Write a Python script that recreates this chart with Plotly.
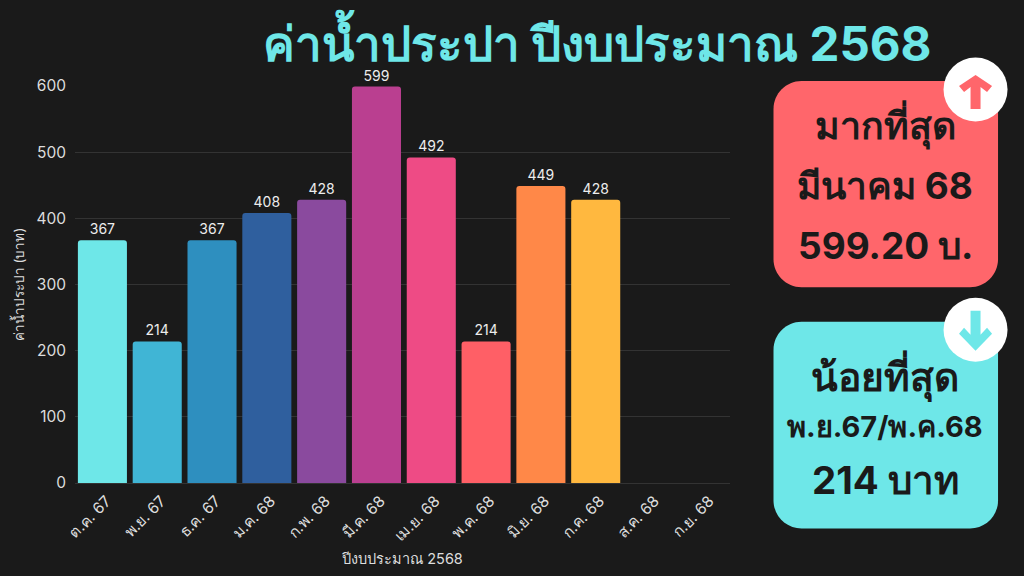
import plotly.graph_objects as go

months = ["ต.ค. 67", "พ.ย. 67", "ธ.ค. 67", "ม.ค. 68", "ก.พ. 68", "มี.ค. 68",
          "เม.ย. 68", "พ.ค. 68", "มิ.ย. 68", "ก.ค. 68", "ส.ค. 68", "ก.ย. 68"]
water_cost = [367, 214, 367, 408, 428, 599.2, 492, 214, 449, 428, None, None]
bar_colors = ["#6EE7E8", "#40B5D5", "#2E8FBF", "#2F5F9E", "#8A4A9E", "#BA3F90",
              "#EE4B85", "#FF5F66", "#FF8848", "#FFB83F", "#FFB83F", "#FFB83F"]
y_ticks = [0, 100, 200, 300, 400, 500, 600]

W, H = 1024, 576
L, R, T, B = 75.1, 730, 86, 483.5
BG = "#1A1A1A"
FONT = "Inter, 'Noto Sans', Roboto, sans-serif"
DARK = "#1A1A1A"
CYAN = "#6EE7E8"
RED = "#FF666B"


def px(x):
    return (x - L) / (R - L)


def py(y):
    return (B - y) / (B - T)


def path(points):
    return "M " + " L ".join(f"{px(x):.5f},{py(y):.5f}" for x, y in points) + " Z"


def round_rect(x0, y0, x1, y1, r):
    k = 0.45 * r
    seg = [
        f"M {px(x0 + r):.5f},{py(y0):.5f}",
        f"L {px(x1 - r):.5f},{py(y0):.5f}",
        f"C {px(x1 - k):.5f},{py(y0):.5f} {px(x1):.5f},{py(y0 + k):.5f} {px(x1):.5f},{py(y0 + r):.5f}",
        f"L {px(x1):.5f},{py(y1 - r):.5f}",
        f"C {px(x1):.5f},{py(y1 - k):.5f} {px(x1 - k):.5f},{py(y1):.5f} {px(x1 - r):.5f},{py(y1):.5f}",
        f"L {px(x0 + r):.5f},{py(y1):.5f}",
        f"C {px(x0 + k):.5f},{py(y1):.5f} {px(x0):.5f},{py(y1 - k):.5f} {px(x0):.5f},{py(y1 - r):.5f}",
        f"L {px(x0):.5f},{py(y0 + r):.5f}",
        f"C {px(x0):.5f},{py(y0 + k):.5f} {px(x0 + k):.5f},{py(y0):.5f} {px(x0 + r):.5f},{py(y0):.5f}",
        "Z",
    ]
    return " ".join(seg)


def shape_path(d, color):
    return dict(type="path", xref="paper", yref="paper", path=d,
                fillcolor=color, line=dict(width=0), layer="above")


def circle(cx, cy, r, color):
    return dict(type="circle", xref="paper", yref="paper",
                x0=px(cx - r), x1=px(cx + r), y0=py(cy + r), y1=py(cy - r),
                fillcolor=color, line=dict(width=0), layer="above")


up_arrow = [(975.5, 75), (992, 86), (987, 92), (980.5, 87), (980.5, 109), (970.5, 109),
            (970.5, 87), (964, 92), (959, 86)]
down_arrow = [(975.5, 351), (992, 334), (987, 328), (980.5, 335), (980.5, 311), (970.5, 311),
              (970.5, 335), (964, 328), (959, 334)]

shapes = [
    shape_path(round_rect(773.5, 81, 998, 287.5, 28), RED),
    shape_path(round_rect(773.5, 322, 998, 529, 28), CYAN),
    circle(975.5, 89.5, 32, "#FFFFFF"),
    circle(975.5, 330, 32, "#FFFFFF"),
    shape_path(path(up_arrow), RED),
    shape_path(path(down_arrow), CYAN),
]


def note(text, x, y, size, color=DARK, weight=700):
    return dict(text=text, xref="paper", yref="paper", x=px(x), y=py(y),
                xanchor="center", yanchor="middle", showarrow=False,
                font=dict(family=FONT, size=size, color=color, weight=weight))


annotations = [
    note("ค่าน้ำประปา ปีงบประมาณ 2568", 597.5, 40, 47.5, CYAN),
    note("มากที่สุด", 885, 125, 37.5),
    note("มีนาคม 68", 885, 186, 37),
    note("599.20 บ.", 885, 246, 37),
    note("น้อยที่สุด", 885, 376, 39),
    note("พ.ย.67/พ.ค.68", 885, 427, 29),
    note("214 บาท", 885, 480, 38.5),
]

fig = go.Figure(go.Bar(
    x=months, y=water_cost,
    marker=dict(color=bar_colors, cornerradius=3, line=dict(width=0)),
    texttemplate="%{y:.0f}", textposition="outside", cliponaxis=False,
    textfont=dict(family=FONT, size=14, color="#EDEDED"),
    showlegend=False,
))

fig.update_layout(
    width=W, height=H, autosize=False,
    margin=dict(l=L, r=W - R, t=T, b=H - B, pad=0),
    paper_bgcolor=BG, plot_bgcolor=BG,
    bargap=0.105, shapes=shapes, annotations=annotations,
    font=dict(family=FONT, color="#DDDDDD"),
    xaxis=dict(
        tickangle=-45, tickfont=dict(size=15.5, color="#DDDDDD"),
        ticklabelshift=4, ticklabelstandoff=2,
        title=dict(text="ปีงบประมาณ 2568", font=dict(size=14.5, color="#DDDDDD"), standoff=9),
        showgrid=False, zeroline=False, showline=True, linecolor="#333333", linewidth=1,
        ticks="", categoryorder="array", categoryarray=months, range=[-0.5, 11.45],
    ),
    yaxis=dict(
        range=[0, 600], tickvals=y_ticks, tickfont=dict(size=15.5, color="#DDDDDD"),
        ticklabelstandoff=8,
        title=dict(text="ค่าน้ำประปา (บาท)", font=dict(size=13.5, color="#DDDDDD"), standoff=8),
        gridcolor="#333333", gridwidth=1, zeroline=False, ticks="",
    ),
)

fig.write_html("out.html", config=dict(displayModeBar=False),
               post_script="document.body.style.margin='0';document.body.style.background='#1A1A1A';")
